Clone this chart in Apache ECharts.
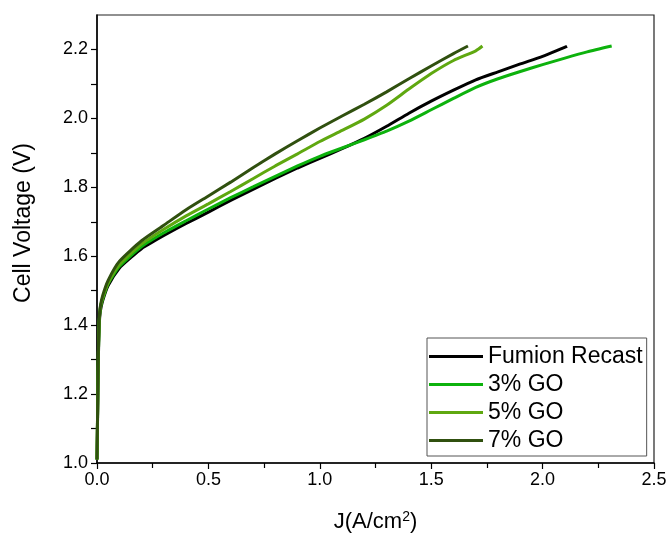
<!DOCTYPE html>
<html>
<head>
<meta charset="utf-8">
<script src="https://cdn.jsdelivr.net/npm/echarts@6/dist/echarts.min.js"></script>
<style>html,body{margin:0;padding:0;background:#fff}#c{width:670px;height:534px}</style>
</head>
<body>
<div id="c"></div>
<script>
var seriesNames = ["Fumion Recast", "3% GO", "5% GO", "7% GO"];
var seriesColors = ["#000000", "#0db20d", "#5fa810", "#30500f"];

var fumionJ = [0, 0.003, 0.006, 0.01, 0.015, 0.025, 0.05, 0.1, 0.15, 0.2, 0.3, 0.4, 0.5, 0.6, 0.7, 0.8, 0.9, 1.0, 1.1, 1.2, 1.3, 1.4, 1.5, 1.6, 1.7, 1.8, 1.9, 2.0, 2.11];
var fumionV = [1.01, 1.15, 1.30, 1.40, 1.44, 1.47, 1.515, 1.565, 1.595, 1.622, 1.66, 1.695, 1.728, 1.762, 1.794, 1.826, 1.856, 1.884, 1.912, 1.942, 1.977, 2.015, 2.05, 2.082, 2.112, 2.135, 2.158, 2.18, 2.209];

var go3J = [0, 0.003, 0.006, 0.01, 0.015, 0.025, 0.05, 0.1, 0.2, 0.3, 0.4, 0.5, 0.6, 0.7, 0.8, 0.9, 1.0, 1.1, 1.2, 1.3, 1.4, 1.5, 1.6, 1.7, 1.8, 1.9, 2.0, 2.1, 2.2, 2.31];
var go3V = [1.01, 1.16, 1.31, 1.41, 1.45, 1.475, 1.52, 1.57, 1.628, 1.668, 1.703, 1.737, 1.77, 1.801, 1.832, 1.862, 1.89, 1.914, 1.938, 1.963, 1.992, 2.025, 2.058, 2.09, 2.115, 2.136, 2.156, 2.175, 2.193, 2.21];

var go5J = [0, 0.003, 0.006, 0.01, 0.015, 0.025, 0.05, 0.1, 0.2, 0.3, 0.4, 0.5, 0.6, 0.7, 0.8, 0.9, 1.0, 1.1, 1.2, 1.3, 1.4, 1.5, 1.6, 1.7, 1.73];
var go5V = [1.01, 1.16, 1.31, 1.41, 1.45, 1.478, 1.522, 1.575, 1.635, 1.678, 1.717, 1.752, 1.788, 1.825, 1.862, 1.897, 1.933, 1.965, 1.998, 2.038, 2.085, 2.13, 2.168, 2.196, 2.21];

var go7J = [0, 0.003, 0.006, 0.01, 0.015, 0.025, 0.05, 0.1, 0.2, 0.3, 0.4, 0.5, 0.6, 0.7, 0.8, 0.9, 1.0, 1.1, 1.2, 1.3, 1.4, 1.5, 1.6, 1.665];
var go7V = [1.01, 1.17, 1.32, 1.42, 1.455, 1.485, 1.53, 1.585, 1.645, 1.69, 1.735, 1.775, 1.815, 1.857, 1.897, 1.935, 1.972, 2.007, 2.041, 2.077, 2.115, 2.152, 2.188, 2.21];

var xTickLabels = [0.0, 0.5, 1.0, 1.5, 2.0, 2.5];
var yTickLabels = [1.0, 1.2, 1.4, 1.6, 1.8, 2.0, 2.2];
var yTicks = [1.0, 1.1, 1.2, 1.3, 1.4, 1.5, 1.6, 1.7, 1.8, 1.9, 2.0, 2.1, 2.2];

function pairs(xs, ys) { return xs.map(function (x, i) { return [x, ys[i]]; }); }
var allData = [pairs(fumionJ, fumionV), pairs(go3J, go3V), pairs(go5J, go5V), pairs(go7J, go7V)];

var font = "Liberation Sans, Arial, sans-serif";
var chart = echarts.init(document.getElementById('c'), null, { renderer: 'canvas' });
chart.setOption({
  animation: false,
  backgroundColor: '#fff',
  grid: { left: 97, right: 16, top: 15, bottom: 71, show: true, borderColor: '#222', borderWidth: 1.2, containLabel: false, outerBoundsMode: 'none' },
  xAxis: {
    type: 'value', min: xTickLabels[0], max: xTickLabels[xTickLabels.length - 1], interval: 0.5,
    name: 'J(A/cm{sup|2})', nameLocation: 'middle', nameGap: 47,
    nameTextStyle: { fontFamily: font, fontSize: 22, color: '#000', rich: { sup: { fontFamily: font, fontSize: 14, verticalAlign: 'top', color: '#000', padding: [0, 0, 10, 0] } } },
    axisLine: { lineStyle: { color: '#000', width: 1.5 } },
    axisTick: { show: true, inside: false, length: 6, lineStyle: { color: '#000', width: 1.2 } },
    minorTick: { show: true, splitNumber: 2, length: 5, lineStyle: { color: '#000', width: 1.2 } },
    splitLine: { show: false },
    axisLabel: { fontFamily: font, fontSize: 18, color: '#000', margin: 8, formatter: function (v) { return v.toFixed(1); } }
  },
  yAxis: {
    type: 'value', min: 1.0, max: 2.3, interval: 0.1,
    name: 'Cell Voltage (V)', nameLocation: 'middle', nameGap: 62,
    nameTextStyle: { fontFamily: font, fontSize: 23, color: '#000', padding: [0, 0, 0, 32] },
    axisLine: { lineStyle: { color: '#000', width: 1.5 } },
    axisTick: { show: true, inside: false, length: 6, customValues: yTicks, lineStyle: { color: '#000', width: 1.2 } },
    splitLine: { show: false },
    axisLabel: { fontFamily: font, fontSize: 18, color: '#000', margin: 9, customValues: yTickLabels, formatter: function (v) { return v.toFixed(1); } }
  },
  legend: {
    orient: 'vertical', left: 427, top: 338, padding: [7, 4, 4, 2], itemGap: 5,
    itemWidth: 54, itemHeight: 3, icon: 'rect',
    borderColor: '#555', borderWidth: 1, backgroundColor: '#fff',
    textStyle: { fontFamily: font, fontSize: 23, color: '#000' },
    data: seriesNames
  },
  series: seriesNames.map(function (n, i) {
    return {
      name: n, type: 'line', data: allData[i], symbol: 'none', smooth: 0.2,
      lineStyle: { color: seriesColors[i], width: 3 },
      itemStyle: { color: seriesColors[i] }
    };
  })
});
</script>
</body>
</html>
